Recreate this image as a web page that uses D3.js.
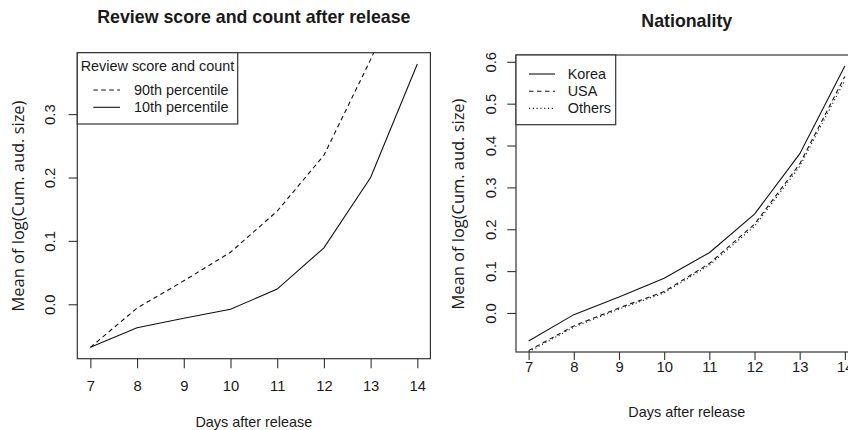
<!DOCTYPE html>
<html>
<head>
<meta charset="utf-8">
<script src="https://cdn.jsdelivr.net/npm/d3@7"></script>
<style>
  html, body { margin: 0; padding: 0; background: #fff; }
  svg { display: block; }
  text { font-family: "Liberation Sans", Arial, sans-serif; fill: #1a1a1a; }
</style>
</head>
<body>
<svg id="chart" width="848" height="430"></svg>
<script>
// Days after release (x axis)
const days = [7, 8, 9, 10, 11, 12, 13, 14];

// Panel 1: review score and count percentiles
const p90 = [-0.068, -0.006, 0.037, 0.082, 0.147, 0.235, 0.386, 0.550];
const p10 = [-0.068, -0.037, -0.022, -0.008, 0.024, 0.089, 0.200, 0.379];

// Panel 2: nationality
const korea  = [-0.067, -0.004, 0.038, 0.083, 0.144, 0.236, 0.380, 0.590];
const usa    = [-0.090, -0.031, 0.012, 0.051, 0.118, 0.212, 0.356, 0.565];
const others = [-0.093, -0.034, 0.009, 0.048, 0.114, 0.207, 0.350, 0.556];

// Tick labels
const xTicks = [7, 8, 9, 10, 11, 12, 13, 14];
const yTicksLeft  = [0.0, 0.1, 0.2, 0.3];
const yTicksRight = [0.0, 0.1, 0.2, 0.3, 0.4, 0.5, 0.6];

const titles = ["Review score and count after release", "Nationality"];
const xLabel = "Days after release";
const yLabel = "Mean of log(Cum. aud. size)";

const legendLeftTitle = "Review score and count";
const legendLeftItems = ["90th percentile", "10th percentile"];
const legendRightItems = ["Korea", "USA", "Others"];

const svg = d3.select("#chart");

// R-style axis range: data extent padded by 4% on each side
function rRange(vals) {
  const [lo, hi] = d3.extent(vals);
  const pad = (hi - lo) * 0.04;
  return [lo - pad, hi + pad];
}

const DASH = "4.5,3.5";
const DOT = "1.1,2.7";

function panel(cfg) {
  const g = svg.append("g");
  const x = d3.scaleLinear().domain(rRange(days)).range([cfg.left, cfg.right]);
  const y = d3.scaleLinear().domain(rRange(cfg.yBase)).range([cfg.bottom, cfg.top]);

  const clipId = "clip" + cfg.id;
  svg.append("clipPath").attr("id", clipId)
    .append("rect")
    .attr("x", cfg.left).attr("y", cfg.top)
    .attr("width", cfg.right - cfg.left).attr("height", cfg.bottom - cfg.top);

  // series lines
  const line = d3.line().x((d, i) => x(days[i])).y(d => y(d));
  const lines = g.append("g").attr("clip-path", `url(#${clipId})`);
  cfg.series.forEach(s => {
    lines.append("path")
      .datum(s.values)
      .attr("d", line)
      .attr("fill", "none")
      .attr("stroke", "#111")
      .attr("stroke-width", 1.1)
      .attr("stroke-dasharray", s.dash || null);
  });

  // x axis
  const xa = g.append("g")
    .attr("transform", `translate(0,${cfg.bottom})`)
    .call(d3.axisBottom(x).tickValues(xTicks).tickFormat(d3.format("d"))
      .tickSize(cfg.xTick).tickPadding(cfg.xPad));
  xa.select(".domain").remove();
  xa.selectAll(".tick line").attr("stroke", "#333").attr("stroke-width", 1.1);
  xa.selectAll(".tick text").attr("font-size", "14.8px").attr("fill", "#1a1a1a")
    .attr("font-family", "Liberation Sans, Arial, sans-serif");

  // y axis with rotated labels
  const ya = g.append("g")
    .attr("transform", `translate(${cfg.left},0)`)
    .call(d3.axisLeft(y).tickValues(cfg.yTicks).tickFormat(d3.format(".1f")).tickSize(8.7));
  ya.select(".domain").remove();
  ya.selectAll(".tick line").attr("stroke", "#333").attr("stroke-width", 1.1);
  ya.selectAll(".tick text")
    .attr("x", null).attr("dy", "0.35em")
    .attr("transform", `translate(${-cfg.yLabOff},0) rotate(-90)`)
    .attr("text-anchor", "middle")
    .attr("font-size", "14.8px").attr("fill", "#1a1a1a")
    .attr("font-family", "Liberation Sans, Arial, sans-serif");

  // plot box
  g.append("rect")
    .attr("x", cfg.left).attr("y", cfg.top)
    .attr("width", cfg.right - cfg.left).attr("height", cfg.bottom - cfg.top)
    .attr("fill", "none").attr("stroke", "#333").attr("stroke-width", 1.2);

  const cx = (cfg.left + cfg.right) / 2;

  // title
  g.append("text").text(cfg.title)
    .attr("x", cx).attr("y", cfg.titleY)
    .attr("text-anchor", "middle")
    .attr("font-weight", "bold").attr("font-size", "17.8px").attr("fill", "#111");

  // x label
  g.append("text").text(xLabel)
    .attr("x", cx).attr("y", cfg.xLabY)
    .attr("text-anchor", "middle").attr("font-size", "14.4px");

  // y label
  const yl = g.append("text").text(yLabel)
    .attr("transform", `translate(${cfg.yLabX},${cfg.yLabCY}) rotate(-90)`)
    .attr("text-anchor", "middle").attr("dy", "0.35em")
    .style("font-family", "'Open Sans', 'Noto Sans', sans-serif")
    .attr("font-size", "16px").attr("fill", "#111");
  const len = yl.node().getComputedTextLength();
  yl.attr("font-size", (16 * 211 / len) + "px");

  // legend
  const lg = g.append("g");
  lg.append("rect")
    .attr("x", cfg.left).attr("y", cfg.top)
    .attr("width", cfg.legend.w).attr("height", cfg.legend.h)
    .attr("fill", "#fff").attr("stroke", "#333").attr("stroke-width", 1.2);
  if (cfg.legend.title) {
    lg.append("text").text(cfg.legend.title)
      .attr("x", cfg.left + cfg.legend.w / 2).attr("y", cfg.top + cfg.legend.titleDy)
      .attr("dy", "0.35em").attr("text-anchor", "middle").attr("font-size", "14.4px");
  }
  cfg.legend.items.forEach((name, i) => {
    const yy = cfg.top + cfg.legend.firstDy + i * cfg.legend.step;
    lg.append("line")
      .attr("x1", cfg.left + cfg.legend.lx1).attr("x2", cfg.left + cfg.legend.lx2)
      .attr("y1", yy).attr("y2", yy)
      .attr("stroke", "#111").attr("stroke-width", 1.1)
      .attr("stroke-dasharray", cfg.series[cfg.legend.order[i]].dash || null);
    lg.append("text").text(name)
      .attr("x", cfg.left + cfg.legend.tx).attr("y", yy)
      .attr("dy", "0.35em").attr("font-size", "14.4px");
  });
}

panel({
  id: 1,
  left: 77.3, right: 430.4, top: 52.7, bottom: 358.7,
  yBase: p10,
  yTicks: yTicksLeft,
  series: [{ values: p90, dash: DASH }, { values: p10 }],
  title: titles[0], titleY: 23.3,
  xTick: 9.6, xPad: 12,
  xLabY: 427,
  yLabOff: 27, yLabX: 18, yLabCY: 206,
  legend: {
    w: 160.4, h: 71.3, title: legendLeftTitle, titleDy: 13,
    items: legendLeftItems, order: [0, 1],
    firstDy: 37.3, step: 17.3, lx1: 16, lx2: 42.7, tx: 56.7
  }
});

panel({
  id: 2,
  left: 516, right: 857.5, top: 55, bottom: 352,
  yBase: korea,
  yTicks: yTicksRight,
  series: [{ values: korea }, { values: usa, dash: DASH }, { values: others, dash: DOT }],
  title: titles[1], titleY: 27,
  xTick: 8, xPad: 1,
  xLabY: 417,
  yLabOff: 25, yLabX: 458.3, yLabCY: 204,
  legend: {
    w: 99.7, h: 69.7, title: null,
    items: legendRightItems, order: [0, 1, 2],
    firstDy: 19, step: 17.2, lx1: 13, lx2: 39, tx: 51.7
  }
});
</script>
</body>
</html>
